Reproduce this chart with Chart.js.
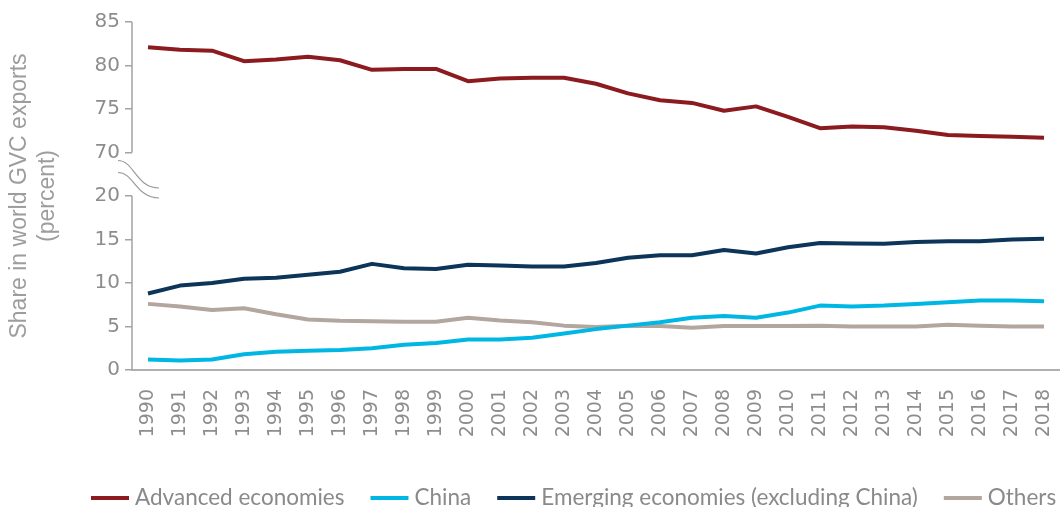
<!DOCTYPE html>
<html>
<head>
<meta charset="utf-8">
<script src="https://cdn.jsdelivr.net/npm/chart.js@4"></script>
<style>
html, body { margin: 0; padding: 0; background: #fff; overflow: hidden; }
#wrap { width: 1060px; height: 507px; position: relative; }
</style>
</head>
<body>
<div id="wrap"><canvas id="chart"></canvas></div>
<script>
var years = ['1990', '1991', '1992', '1993', '1994', '1995', '1996', '1997', '1998', '1999',
	'2000', '2001', '2002', '2003', '2004', '2005', '2006', '2007', '2008', '2009',
	'2010', '2011', '2012', '2013', '2014', '2015', '2016', '2017', '2018'];

var advanced = [82.1, 81.8, 81.7, 80.5, 80.7, 81.0, 80.6, 79.5, 79.6, 79.6,
	78.2, 78.5, 78.6, 78.6, 77.9, 76.8, 76.0, 75.7, 74.8, 75.3,
	74.1, 72.8, 73.0, 72.9, 72.5, 72.0, 71.9, 71.8, 71.7];
var china = [1.2, 1.1, 1.2, 1.8, 2.1, 2.2, 2.3, 2.5, 2.9, 3.1,
	3.5, 3.5, 3.7, 4.2, 4.7, 5.1, 5.5, 6.0, 6.2, 6.0,
	6.6, 7.4, 7.3, 7.4, 7.6, 7.8, 8.0, 8.0, 7.9];
var emerging = [8.8, 9.7, 10.0, 10.5, 10.6, 10.95, 11.3, 12.2, 11.7, 11.6,
	12.1, 12.0, 11.9, 11.9, 12.3, 12.9, 13.2, 13.2, 13.8, 13.4,
	14.1, 14.6, 14.55, 14.5, 14.7, 14.8, 14.8, 15.0, 15.1];
var others = [7.6, 7.3, 6.9, 7.1, 6.4, 5.8, 5.65, 5.6, 5.55, 5.55,
	6.0, 5.7, 5.5, 5.1, 4.95, 5.1, 5.05, 4.85, 5.05, 5.05,
	5.05, 5.1, 5.0, 5.0, 5.0, 5.2, 5.1, 5.0, 5.0];

var seriesNames = ['Advanced economies', 'China', 'Emerging economies (excluding China)', 'Others'];
var seriesColors = ['#8c1b20', '#00b7e4', '#0d3459', '#b3a69e'];

// broken axis: 0-20 kept as is, 70-85 pulled down to sit right above the break
var BREAK_LOW = 20, BREAK_HIGH = 70, BREAK_SHIFT = 45;

function toAxis(v) {
	return v >= BREAK_HIGH ? v - BREAK_SHIFT : v;
}

function fromAxis(v) {
	return v > BREAK_LOW ? v + BREAK_SHIFT : v;
}

var axisGrey = '#a3a3a3';
var textGrey = '#8d8d8d';

var brokenAxis = {
	id: 'brokenAxis',
	afterDraw: function(chart) {
		var ctx = chart.ctx,
			y = chart.scales.y,
			x0 = chart.chartArea.left;
		var yTop = y.getPixelForValue(40),
			yHigh = y.getPixelForValue(toAxis(BREAK_HIGH)),
			yLow = y.getPixelForValue(BREAK_LOW),
			yBottom = y.getPixelForValue(0);

		ctx.save();
		ctx.strokeStyle = axisGrey;
		ctx.lineWidth = 1.5;
		ctx.beginPath();
		ctx.moveTo(x0, yTop);
		ctx.lineTo(x0, yHigh);
		ctx.moveTo(x0, yLow);
		ctx.lineTo(x0, yBottom);
		ctx.stroke();

		// two wavy break marks across the axis
		ctx.strokeStyle = '#9a9a9a';
		ctx.lineWidth = 1.2;
		var offsets = [[8, -8], [20, 2]];
		for (var i = 0; i < offsets.length; i++) {
			var sy = yHigh + offsets[i][0],
				ey = yLow + offsets[i][1];
			ctx.beginPath();
			ctx.moveTo(x0 - 14, sy);
			ctx.bezierCurveTo(x0 + 2, sy, x0 + 4, ey, x0 + 27, ey);
			ctx.stroke();
		}
		ctx.restore();
	}
};

// legend drawn by hand so it can sit off-centre like the original
var lineLegend = {
	id: 'lineLegend',
	afterDraw: function(chart) {
		var ctx = chart.ctx,
			x = 91,
			boxY = 498,
			textY = 505;
		ctx.save();
		ctx.font = '22.5px Lato';
		ctx.textBaseline = 'alphabetic';
		chart.data.datasets.forEach(function(ds) {
			ctx.fillStyle = ds.borderColor;
			ctx.fillRect(x, boxY - 2, 38, 4);
			x += 38 + 6;
			ctx.fillStyle = '#8a8a8a';
			ctx.fillText(ds.label, x, textY);
			x += ctx.measureText(ds.label).width + 26;
		});
		ctx.restore();
	}
};

var datasets = [advanced, china, emerging, others].map(function(values, i) {
	return {
		label: seriesNames[i],
		data: values.map(toAxis),
		borderColor: seriesColors[i],
		backgroundColor: seriesColors[i],
		borderWidth: 4,
		borderJoinStyle: 'round',
		pointRadius: 0,
		tension: 0
	};
});

new Chart(document.getElementById('chart'), {
	type: 'line',
	data: { labels: years, datasets: datasets },
	plugins: [brokenAxis, lineLegend],
	options: {
		responsive: true,
		maintainAspectRatio: false,
		animation: false,
		layout: { padding: { top: 22, right: 0, left: 0, bottom: 47 } },
		plugins: {
			tooltip: { enabled: false },
			legend: { display: false }
		},
		scales: {
			x: {
				offset: true,
				afterFit: function(scale) {
					scale.height = 90;
					scale.paddingLeft = 0;
					scale.paddingRight = 0;
				},
				grid: { display: false },
				border: { display: true, color: '#b0b0b0', width: 2 },
				ticks: {
					autoSkip: false,
					minRotation: 90,
					maxRotation: 90,
					padding: 11,
					color: textGrey,
					font: { family: 'DejaVu Sans', size: 19 }
				}
			},
			y: {
				min: 0,
				max: 40,
				afterFit: function(scale) { scale.width = 132; },
				border: { display: false },
				grid: { drawOnChartArea: false, drawTicks: true, tickLength: 7, color: axisGrey, lineWidth: 1.5 },
				ticks: {
					stepSize: 5,
					padding: 5,
					color: textGrey,
					font: { family: 'DejaVu Sans', size: 20 },
					callback: function(v) { return fromAxis(v); }
				},
				title: {
					display: true,
					text: ['Share in world GVC exports', '(percent)'],
					color: '#9d9d9d',
					font: { family: 'Liberation Sans', size: 23 },
					padding: { top: 6, bottom: 0 }
				}
			}
		}
	}
});
</script>
</body>
</html>
